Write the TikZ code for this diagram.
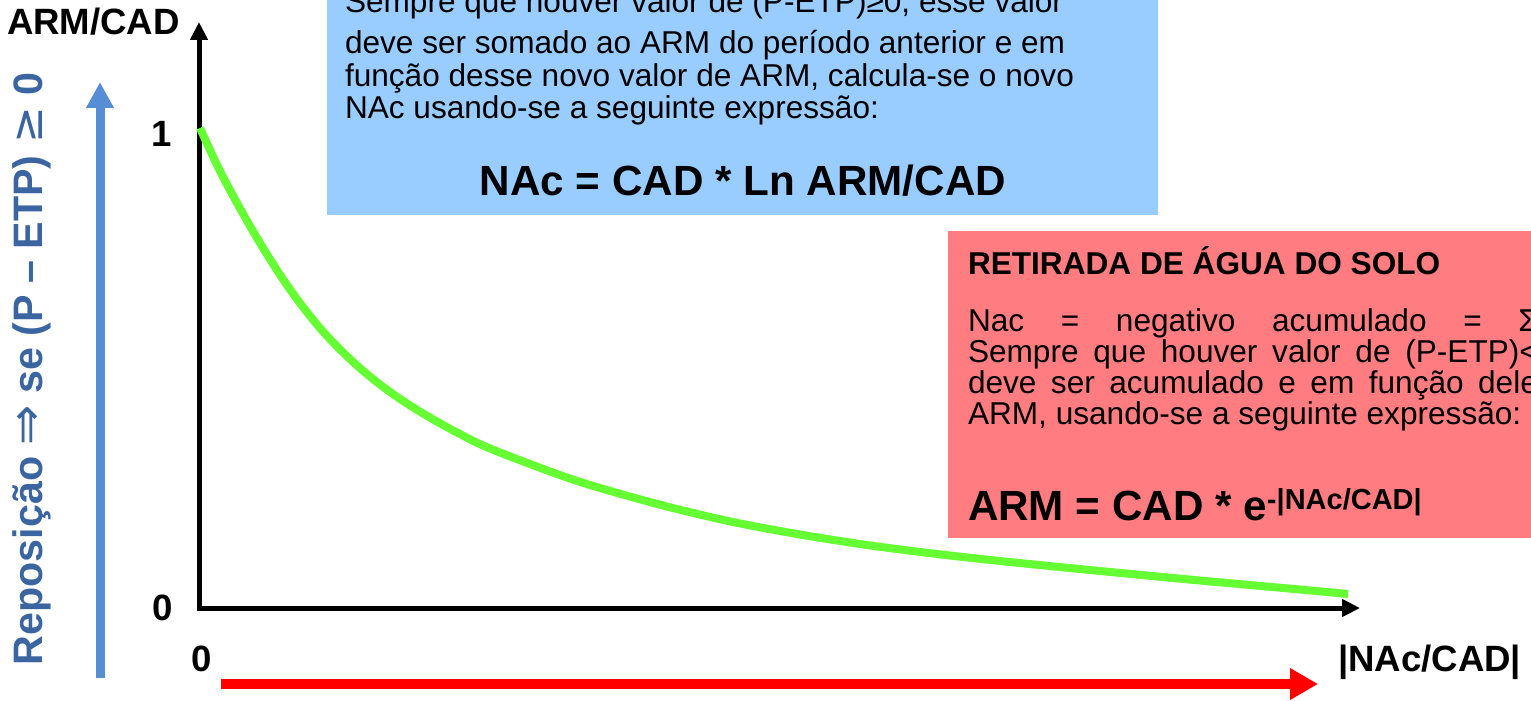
\documentclass[tikz,border=0pt]{standalone}
\usepackage{fontspec}
\setmainfont{Liberation Sans}
\newfontfamily\dejavu{DejaVu Sans}
\usetikzlibrary{arrows.meta}
\definecolor{boxblue}{HTML}{99CCFF}
\definecolor{boxred}{HTML}{FF7C80}
\definecolor{curvegreen}{HTML}{66FF33}
\definecolor{arrowblue}{HTML}{558ED5}
\definecolor{labelblue}{HTML}{3A65A0}
\definecolor{arrowred}{HTML}{FF0000}
\tikzset{
  body/.style={inner sep=0pt, outer sep=0pt, anchor=base west, font=\fontsize{15.8pt}{18pt}\selectfont},
  bodytitle/.style={body, font=\bfseries\fontsize{15.8pt}{18pt}\selectfont},
  formula/.style={inner sep=0pt, outer sep=0pt, anchor=base west, font=\bfseries\fontsize{21.1pt}{24pt}\selectfont},
  axislabel/.style={inner sep=0pt, outer sep=0pt, font=\bfseries\fontsize{18.3pt}{21pt}\selectfont},
  sidelabel/.style={inner sep=0pt, outer sep=0pt, font=\bfseries\fontsize{20.6pt}{23pt}\selectfont},
  axisline/.style={line width=2.5pt, {Triangle[length=9pt,width=8.5pt]}-{Triangle[length=9pt,width=8.5pt]}},
  curveline/.style={curvegreen, line width=4pt},
  bigarrowblue/.style={arrowblue, line width=4.5pt, -{Triangle[length=13pt,width=13pt]}},
  bigarrowred/.style={arrowred, line width=5pt, -{Triangle[length=14pt,width=15pt]}},
}
\begin{document}
\begin{tikzpicture}[x=0.5pt,y=-0.5pt]
\useasboundingbox (0,0) rectangle (1531,701);
\begin{scope}
\clip (0,0) rectangle (1531,701);
% boxes
\fill[boxblue] (327,-5) rectangle (1158,215);
\fill[boxred] (948,231) rectangle (1540,538);

% blue box text
\node[body] (b1) at (345,13) {Sempre que houver valor de (P-ETP)≥0, esse valor};
\node[body] (b2) at (345,54) {deve ser somado ao ARM do período anterior e em};
\node[body] (b3) at (345,86.5) {função desse novo valor de ARM, calcula-se o novo};
\node[body] (b4) at (345,119) {NAc usando-se a seguinte expressão:};
\node[formula, anchor=base] (bf) at (743,195) {NAc = CAD * Ln ARM/CAD};

% red box text
\node[bodytitle] (rt) at (968,274) {RETIRADA DE ÁGUA DO SOLO};
\node[body] (r1) at (968,331) {\makebox[285pt][s]{Nac = negativo acumulado = Σ}};
\node[body] (r2) at (968,362) {\makebox[285pt][s]{Sempre que houver valor de (P-ETP)<}};
\node[body] (r3) at (968,393) {\makebox[285pt][s]{deve ser acumulado e em função dele}};
\node[body] (r4) at (968,424) {ARM, usando-se a seguinte expressão:};
\node[formula] (rf) at (968,520) {ARM = CAD * e\raisebox{5.5pt}{\fontsize{14.5pt}{16pt}\selectfont -|NAc/CAD|}};

% axes
\coordinate (O) at (199,608);
\coordinate (Ytip) at (199,22);
\coordinate (Xtip) at (1360,608);
\draw[axisline] (Ytip) -- (O) -- (Xtip);

% curve
\draw[curveline] plot[smooth, tension=0.55] coordinates {
 (200,128) (223,177) (257,238) (290,289.5) (323,331.5) (357,365.5) (390,392)
 (423,413.5) (457,432.5) (490,448.5) (557,474) (600,488) (667,506.5)
 (733,522) (800,534.5) (867,545) (933,553.5) (1000,561) (1100,571) (1200,580.5)
 (1300,589.5) (1348,594)};

% axis labels
\node[axislabel, anchor=base west] (ylab) at (7,35) {ARM/CAD};
\node[axislabel, anchor=base east] (one) at (172,147) {1};
\node[axislabel, anchor=base east] (zeroy) at (173,620) {0};
\node[axislabel, anchor=base west] (zerox) at (191,671) {0};
\node[axislabel, anchor=base west] (xlab) at (1338,671) {|NAc/CAD|};

% side arrows
\coordinate (ba0) at (100,678);
\coordinate (ba1) at (100,82);
\draw[bigarrowblue] (ba0) -- (ba1);
\coordinate (ra0) at (221,684);
\coordinate (ra1) at (1318,684);
\draw[bigarrowred] (ra0) -- (ra1);

% rotated label
\node[sidelabel, rotate=90, anchor=base west, text=labelblue] (side) at (42,665)
  {Reposição {\dejavu\mdseries\fontsize{24pt}{26pt}\selectfont ⇒} se (P – ETP) {\dejavu\mdseries\fontsize{22pt}{24pt}\selectfont ≥} 0};
\end{scope}
\end{tikzpicture}
\end{document}
